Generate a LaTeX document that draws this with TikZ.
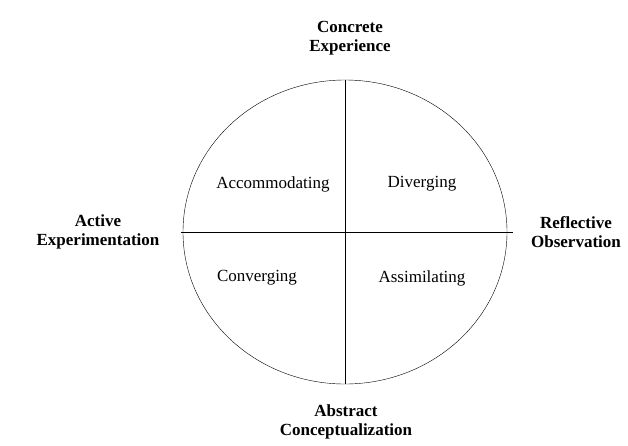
\documentclass[tikz,border=0pt]{standalone}
\usepackage{fontspec}
\usetikzlibrary{shapes.geometric}
\setmainfont{Liberation Serif}
\begin{document}
\begin{tikzpicture}[x=1pt,y=-1pt,
  axis/.style={font=\fontsize{17}{19}\selectfont\bfseries,align=center},
  quad/.style={font=\fontsize{17}{19}\selectfont}]
\useasboundingbox (0,0) rectangle (628,445);
\node[draw,ellipse,minimum width=324pt,minimum height=304pt,inner sep=0pt] (c) at (345,232) {};
\draw (c.north) -- (c.south);
\draw ([xshift=-2pt]c.west) -- ([xshift=6pt]c.east);
\node[axis] (ce) at (350,38) {Concrete\\Experience};
\node[axis] (ae) at (98,232) {Active\\Experimentation};
\node[axis] (ro) at (576,232) {Reflective\\Observation};
\node[axis] (ac) at (346,422) {Abstract\\Conceptualization};
\node[quad] (q1) at (273,184) {Accommodating};
\node[quad] (q2) at (422,184) {Diverging};
\node[quad] (q3) at (257,278) {Converging};
\node[quad] (q4) at (422,278) {Assimilating};
\end{tikzpicture}
\end{document}
